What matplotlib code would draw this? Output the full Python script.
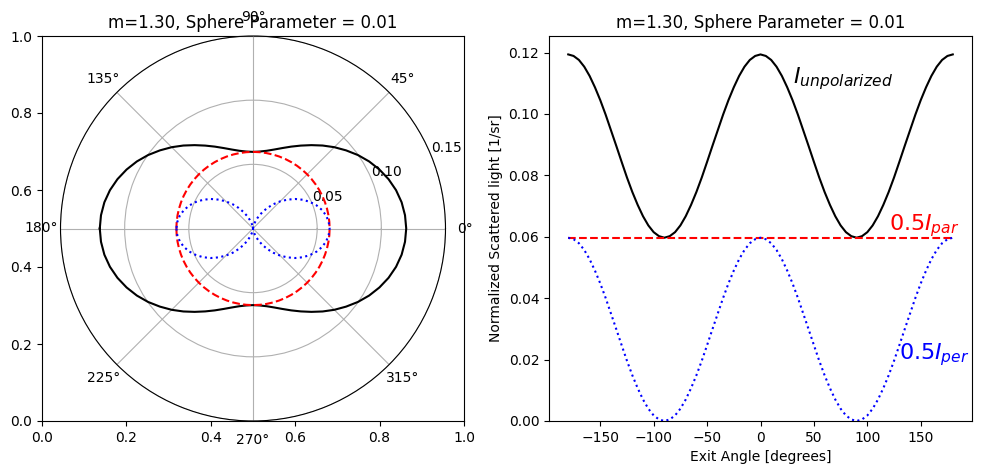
import numpy as np
import matplotlib
matplotlib.use("Agg")
import matplotlib.pyplot as plt

title = "m=1.30, Sphere Parameter = 0.01"

# exit angles in degrees (every 5 degrees)
angles_deg = [-180, -175, -170, -165, -160, -155, -150, -145, -140, -135, -130, -125,
              -120, -115, -110, -105, -100, -95, -90, -85, -80, -75, -70, -65, -60,
              -55, -50, -45, -40, -35, -30, -25, -20, -15, -10, -5, 0, 5, 10, 15, 20,
              25, 30, 35, 40, 45, 50, 55, 60, 65, 70, 75, 80, 85, 90, 95, 100, 105,
              110, 115, 120, 125, 130, 135, 140, 145, 150, 155, 160, 165, 170, 175, 180]

unpolarized = [0.1194, 0.1189, 0.1176, 0.1154, 0.1124, 0.1087, 0.1045, 0.0998, 0.0947, 0.0896,
               0.0844, 0.0793, 0.0746, 0.0704, 0.0667, 0.0637, 0.0615, 0.0602, 0.0597,
               0.0602, 0.0615, 0.0637, 0.0667, 0.0704, 0.0746, 0.0793, 0.0844, 0.0896,
               0.0947, 0.0998, 0.1045, 0.1087, 0.1124, 0.1154, 0.1176, 0.1189, 0.1194,
               0.1189, 0.1176, 0.1154, 0.1124, 0.1087, 0.1045, 0.0998, 0.0947, 0.0896,
               0.0844, 0.0793, 0.0746, 0.0704, 0.0667, 0.0637, 0.0615, 0.0602, 0.0597,
               0.0602, 0.0615, 0.0637, 0.0667, 0.0704, 0.0746, 0.0793, 0.0844, 0.0896,
               0.0947, 0.0998, 0.1045, 0.1087, 0.1124, 0.1154, 0.1176, 0.1189, 0.1194]

half_par = [0.0597, 0.0597, 0.0597, 0.0597, 0.0597, 0.0597, 0.0597, 0.0597, 0.0597, 0.0597,
            0.0597, 0.0597, 0.0597, 0.0597, 0.0597, 0.0597, 0.0597, 0.0597, 0.0597,
            0.0597, 0.0597, 0.0597, 0.0597, 0.0597, 0.0597, 0.0597, 0.0597, 0.0597,
            0.0597, 0.0597, 0.0597, 0.0597, 0.0597, 0.0597, 0.0597, 0.0597, 0.0597,
            0.0597, 0.0597, 0.0597, 0.0597, 0.0597, 0.0597, 0.0597, 0.0597, 0.0597,
            0.0597, 0.0597, 0.0597, 0.0597, 0.0597, 0.0597, 0.0597, 0.0597, 0.0597,
            0.0597, 0.0597, 0.0597, 0.0597, 0.0597, 0.0597, 0.0597, 0.0597, 0.0597,
            0.0597, 0.0597, 0.0597, 0.0597, 0.0597, 0.0597, 0.0597, 0.0597, 0.0597]

half_per = [0.0597, 0.0592, 0.0579, 0.0557, 0.0527, 0.0490, 0.0448, 0.0401, 0.0350, 0.0299,
            0.0247, 0.0196, 0.0149, 0.0107, 0.0070, 0.0040, 0.0018, 0.0005, 0.0000,
            0.0005, 0.0018, 0.0040, 0.0070, 0.0107, 0.0149, 0.0196, 0.0247, 0.0299,
            0.0350, 0.0401, 0.0448, 0.0490, 0.0527, 0.0557, 0.0579, 0.0592, 0.0597,
            0.0592, 0.0579, 0.0557, 0.0527, 0.0490, 0.0448, 0.0401, 0.0350, 0.0299,
            0.0247, 0.0196, 0.0149, 0.0107, 0.0070, 0.0040, 0.0018, 0.0005, 0.0000,
            0.0005, 0.0018, 0.0040, 0.0070, 0.0107, 0.0149, 0.0196, 0.0247, 0.0299,
            0.0350, 0.0401, 0.0448, 0.0490, 0.0527, 0.0557, 0.0579, 0.0592, 0.0597]

r_ticks = [0.05, 0.10, 0.15]

theta = np.radians(angles_deg)

fig = plt.figure(figsize=(9.81, 4.74), dpi=100)

# left: cartesian background axes with polar overlay
ax_bg = fig.add_axes([42 / 981, 53 / 474, 422 / 981, 385 / 474])
ax_bg.set_title(title)
ax_bg.set_xlim(0, 1)
ax_bg.set_ylim(0, 1)

axp = fig.add_axes([42 / 981, 53 / 474, 422 / 981, 385 / 474], projection='polar')
axp.patch.set_alpha(0)
axp.plot(theta, unpolarized, color='black')
axp.plot(theta, half_par, '--', color='red')
axp.plot(theta, half_per, ':', color='blue')
axp.set_rmax(0.15)
axp.set_rticks(r_ticks)
axp.set_yticklabels(["0.05", "0.10", "0.15"])
axp.grid(True)

# right: cartesian
ax2 = fig.add_axes([549 / 981, 53 / 474, 423 / 981, 385 / 474])
ax2.plot(angles_deg, unpolarized, color='black')
ax2.plot(angles_deg, half_par, '--', color='red')
ax2.plot(angles_deg, half_per, ':', color='blue')
ax2.set_ylim(0, 0.1254)
ax2.set_title(title)
ax2.set_xlabel("Exit Angle [degrees]")
ax2.set_ylabel("Normalized Scattered light [1/sr]")
ax2.text(30, 0.110, r"$I_{unpolarized}$", fontsize=16, color='black')
ax2.text(120, 0.062, r"$0.5I_{par}$", fontsize=16, color='red')
ax2.text(130, 0.020, r"$0.5I_{per}$", fontsize=16, color='blue')

fig.savefig("out.png", dpi=100)
